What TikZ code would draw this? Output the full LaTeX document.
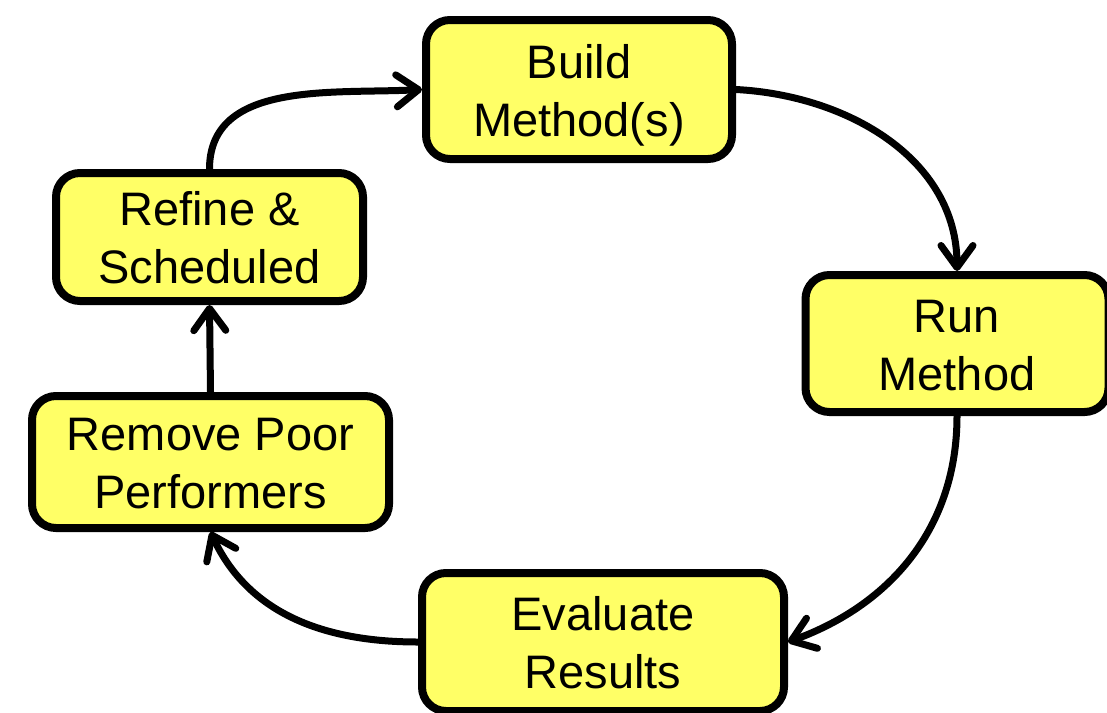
\documentclass[tikz,border=0pt]{standalone}
\usepackage{fontspec}
\setmainfont{Liberation Sans}
\usetikzlibrary{arrows.meta}
\definecolor{stepyellow}{RGB}{255,255,102}
\newcommand{\tstrut}{\rule{0pt}{22.5pt}}
\newcommand{\bstrut}{\rule[-5pt]{0pt}{5pt}}

\begin{document}
\begin{tikzpicture}[
		x=0.5pt, y=-0.5pt,
		>={Straight Barb[length=11pt, width=16pt, line cap=round, line join=round]},
		box/.style={draw, line width=4pt, rounded corners=12pt, fill=stepyellow, align=center,
			font=\fontsize{23.5pt}{29pt}\selectfont, inner sep=0pt},
		flow/.style={->, line width=3.5pt, line cap=round}
		]
		
		\useasboundingbox (0,0) rectangle (1107,712);
		
		% --------------------------------------------------
		% Boxes of the cycle
		% --------------------------------------------------
		\node[box, minimum width=153pt, minimum height=69.5pt] (build) at (579,89.5) {\tstrut Build\\Method(s)\bstrut};
		\node[box, minimum width=151.5pt, minimum height=68.5pt] (run) at (957,343.5) {\tstrut Run\\Method\bstrut};
		\node[box, minimum width=181pt, minimum height=69pt] (eval) at (603,642) {\tstrut Evaluate\\Results\bstrut};
		\node[box, minimum width=178.5pt, minimum height=66pt] (remove) at (210.5,462) {\tstrut Remove Poor\\Performers\bstrut};
		\node[box, minimum width=153.5pt, minimum height=64pt] (refine) at (209.5,237) {\tstrut Refine \&\\Scheduled\bstrut};
		
		% --------------------------------------------------
		% Connecting arrows
		% --------------------------------------------------
		\draw[flow] (refine.north) to[out=90, in=183] (build.west);
		\draw[flow] (build.east) to[out=-3, in=90] (run.north);
		\draw[flow] (run.south) to[out=-90, in=20] (eval.east);
		\draw[flow] (eval.west) to[out=180, in=-65] (remove.south);
		\draw[flow] (remove.north) -- (refine.south);
		
	\end{tikzpicture}
\end{document}
